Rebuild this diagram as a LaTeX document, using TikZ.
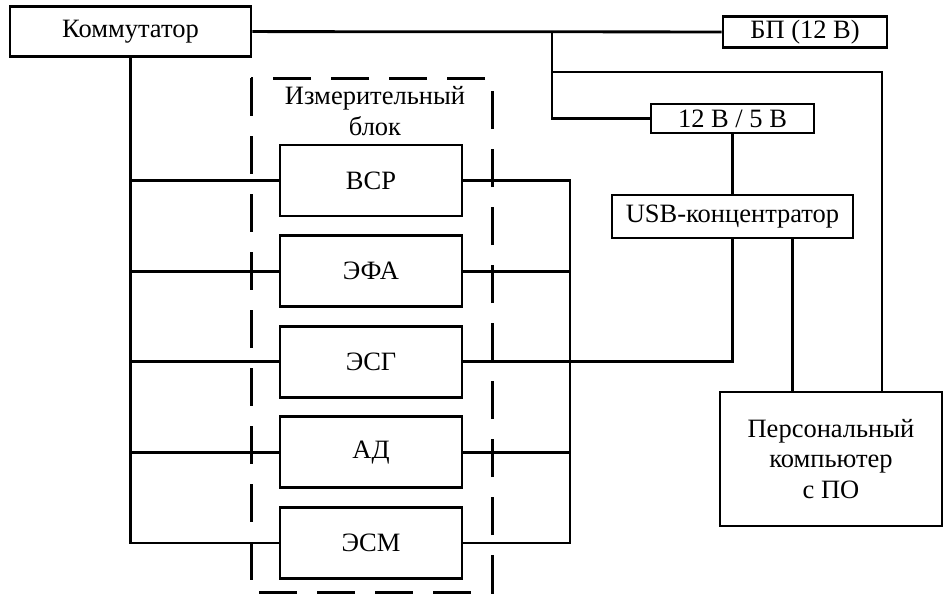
\documentclass[tikz,border=0pt]{standalone}
\usepackage{fontspec}
\setmainfont{Liberation Serif}
\usetikzlibrary{positioning}
\begin{document}
\begin{tikzpicture}[x=1pt,y=-1pt,line width=2.8pt,
  every node/.style={draw,rectangle,line width=2.8pt,inner sep=0pt,font=\fontsize{26.5}{30.5}\selectfont},
  blk/.style={minimum width=182pt,minimum height=71pt},
  dashbox/.style={line width=3pt,dash pattern=on 38pt off 20pt}]
  \useasboundingbox (0,0) rectangle (944,594);
  \node (kom) at (130.5,31.5)[minimum width=241pt,minimum height=50pt]{Коммутатор};
  \node (bp) at (805,32)[minimum width=164pt,minimum height=31pt]{БП (12 В)};
  \node (conv) at (732.5,118.5)[minimum width=163pt,minimum height=29pt]{12 В / 5 В};
  \node (usb) at (732.5,216.5)[minimum width=241pt,minimum height=43pt]{USB-концентратор};
  \node (pc) at (831,459)[minimum width=222pt,minimum height=134pt,align=center]{Персональный\\компьютер\\с ПО};

  \node (vsr) at (371,180.5)[blk]{ВСР};
  \node[blk,below=16.8pt of vsr](efa){ЭФА};
  \node[blk,below=16.8pt of efa](esg){ЭСГ};
  \node[blk,below=16.8pt of esg](ad){АД};
  \node[blk,below=16.8pt of ad](esm){ЭСМ};

  \node (izm) at (375,111)[draw=none,align=center]{Измерительный\\блок};
  \draw[dashbox] (251,78) rectangle (492,592);

  \coordinate (j1) at (552,32);
  \coordinate (j2) at (552,72);
  \coordinate (rb) at (570,0);
  \draw (kom) -- (bp);
  \draw (j1) |- (conv);
  \draw (j2) -| ([xshift=51pt]pc.north);
  \draw (conv) -- (usb);
  \draw (usb.south) |- (esg.east);
  \draw ([xshift=60pt]usb.south) -- ([xshift=60pt]usb.south |- pc.north);

  \draw (kom.south) |- (esm.west);
  \draw (vsr.east) -| (esm.east -| rb) -- (esm.east);
  \foreach \b in {vsr,efa,esg,ad}
    \draw (kom.south |- \b.west) -- (\b.west);
  \foreach \b in {efa,ad}
    \draw (\b.east) -- (\b.east -| rb);
\end{tikzpicture}
\end{document}
